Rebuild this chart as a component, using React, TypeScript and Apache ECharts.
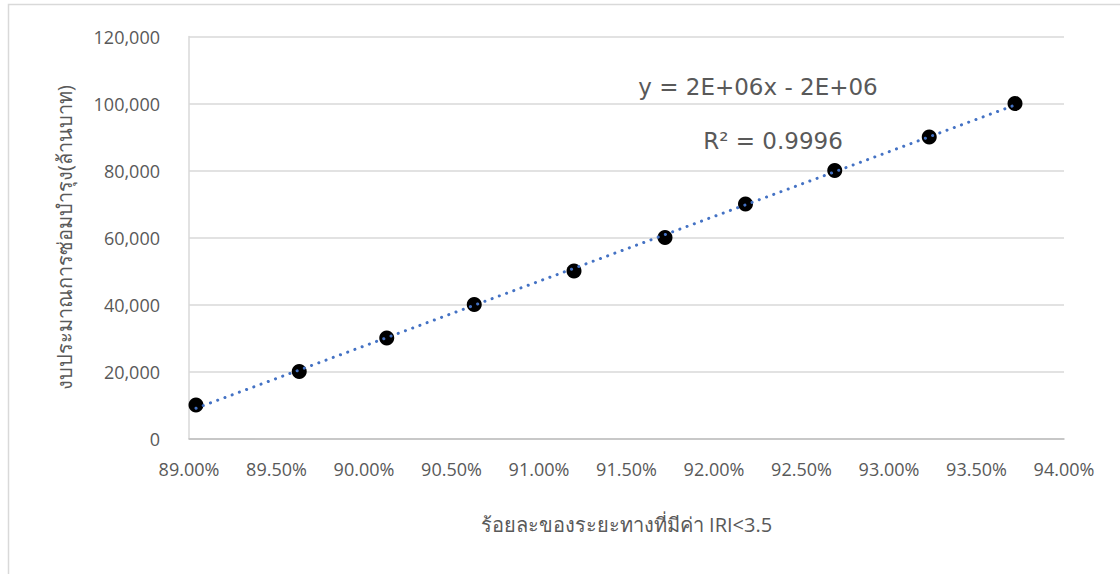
import React, { useEffect, useRef } from "react";
import * as echarts from "echarts";

const xValues = [89.04, 89.63, 90.13, 90.63, 91.2, 91.72, 92.18, 92.69, 93.23, 93.72];
const yValues = [10000, 20000, 30000, 40000, 50000, 60000, 70000, 80000, 90000, 100000];
const equationText = "y = 2E+06x - 2E+06";
const r2Text = "R² = 0.9996";
const xAxisTitle = "ร้อยละของระยะทางที่มีค่า IRI<3.5";
const yAxisTitle = "งบประมาณการซ่อมบำรุง(ล้านบาท)";

function regression(xs: number[], ys: number[]) {
  const n = xs.length;
  const mx = xs.reduce((a, b) => a + b, 0) / n;
  const my = ys.reduce((a, b) => a + b, 0) / n;
  let sxy = 0, sxx = 0;
  for (let i = 0; i < n; i++) {
    sxy += (xs[i] - mx) * (ys[i] - my);
    sxx += (xs[i] - mx) ** 2;
  }
  const slope = sxy / sxx;
  return { slope, intercept: my - slope * mx };
}

export default function App() {
  const ref = useRef<HTMLDivElement>(null);
  useEffect(() => {
    if (!ref.current) return;
    const chart = echarts.init(ref.current, null, { renderer: "svg" });
    const { slope, intercept } = regression(xValues, yValues);
    const x0 = Math.min(...xValues);
    const x1 = Math.max(...xValues);
    const trend = [
      [x0, slope * x0 + intercept],
      [x1, slope * x1 + intercept],
    ];
    const font = "'Open Sans', 'Noto Sans', sans-serif";
    const eqFont = "'DejaVu Sans', 'Open Sans', sans-serif";
    chart.setOption({
      animation: false,
      backgroundColor: "#fff",
      textStyle: { fontFamily: font },
      grid: { left: 189, right: 56, top: 36.5, bottom: 135.5, containLabel: false },
      xAxis: {
        type: "value",
        min: 89,
        max: 94,
        interval: 0.5,
        axisLine: { show: true, lineStyle: { color: "#bfbfbf", width: 1.5 } },
        axisTick: { show: false },
        splitLine: { show: false },
        axisLabel: {
          color: "#595959",
          fontSize: 18,
          margin: 21,
          fontFamily: font,
          formatter: (v: number) => v.toFixed(2) + "%",
        },
        name: xAxisTitle,
        nameLocation: "middle",
        nameGap: 76,
        nameTextStyle: { color: "#595959", fontSize: 20, fontFamily: font },
      },
      yAxis: {
        type: "value",
        min: 0,
        max: 120000,
        interval: 20000,
        axisLine: { show: true, lineStyle: { color: "#d9d9d9", width: 1.5 } },
        axisTick: { show: false },
        splitLine: { show: true, lineStyle: { color: "#d9d9d9", width: 1.5 } },
        axisLabel: {
          color: "#595959",
          fontSize: 18,
          margin: 29,
          fontFamily: font,
          formatter: (v: number) => v.toLocaleString("en-US"),
        },
        name: yAxisTitle,
        nameLocation: "middle",
        nameGap: 115,
        nameRotate: 90,
        nameTextStyle: { color: "#595959", fontSize: 20, fontFamily: font },
      },
      graphic: [
        {
          type: "rect",
          shape: { x: 8.5, y: 4.5, width: 1300, height: 800 },
          style: { fill: "none", stroke: "#d9d9d9", lineWidth: 1.5 },
          silent: true,
          z: -10,
        },
        {
          type: "text",
          x: 758,
          y: 87,
          style: {
            text: equationText,
            fill: "#595959",
            fontSize: 23,
            fontFamily: eqFont,
            align: "center",
            verticalAlign: "middle",
          },
        },
        {
          type: "text",
          x: 773,
          y: 141,
          style: {
            text: r2Text,
            fill: "#595959",
            fontSize: 23,
            fontFamily: eqFont,
            align: "center",
            verticalAlign: "middle",
          },
        },
      ],
      series: [
        {
          type: "scatter",
          data: xValues.map((x, i) => [x, yValues[i]]),
          symbol: "circle",
          symbolSize: 15,
          itemStyle: { color: "#000", opacity: 1 },
          z: 2,
        },
        {
          type: "line",
          data: trend,
          symbol: "none",
          lineStyle: { color: "#4472C4", width: 3, type: [0.1, 7.6], cap: "round" },
          z: 3,
        },
      ],
    });
    return () => chart.dispose();
  }, []);
  return (
    <div
      ref={ref}
      style={{ position: "fixed", left: 0, top: 0, width: 1120, height: 574 }}
    />
  );
}
